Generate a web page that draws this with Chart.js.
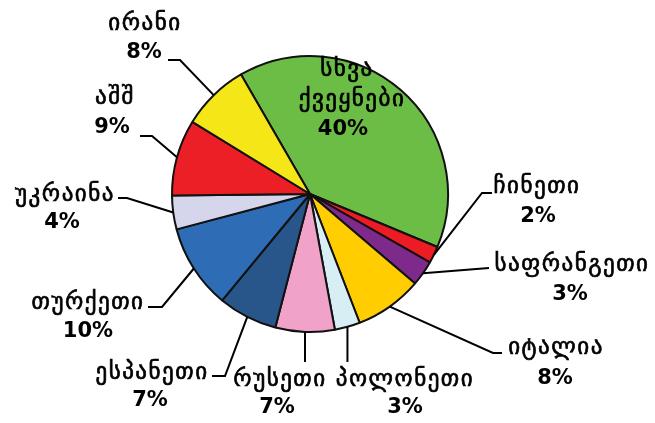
<!DOCTYPE html>
<html>
<head>
<meta charset="utf-8">
<script src="https://cdn.jsdelivr.net/npm/chart.js@4/dist/chart.umd.min.js"></script>
<style>
  html, body { margin: 0; padding: 0; background: #fff; }
  #wrap { width: 655px; height: 423px; }
</style>
</head>
<body>
<div id="wrap"><canvas id="importPie"></canvas></div>
<script>
// countries, clockwise from the big green slice
const countries = ['სხვა ქვეყნები', 'ჩინეთი', 'საფრანგეთი', 'იტალია', 'პოლონეთი', 'რუსეთი', 'ესპანეთი', 'თურქეთი', 'უკრაინა', 'აშშ', 'ირანი'];
const shares = [40, 2, 3, 8, 3, 7, 7, 10, 4, 9, 8];
const pctLabels = ['40%', '2%', '3%', '8%', '3%', '7%', '7%', '10%', '4%', '9%', '8%'];
const sliceColors = ['#6cbd45', '#ed1c24', '#7d2a8a', '#ffcd00', '#d6eef4', '#f0a2c8', '#28568a', '#2e6db5', '#d5d5eb', '#ed1f26', '#f5e717'];

// label placement, offsets from the pie centre (px)
const labelPos = [
  null,
  { name: [227, -7], pct: [228, 23], elbow: [172, -1], end: [182, -1] },
  { name: [262, 71], pct: [260, 101], elbow: [179, 74], end: [179, 74] },
  { name: [246, 154], pct: [245, 185], elbow: [183, 159], end: [192, 159] },
  { name: [95, 186], pct: [95, 214], vertical: 168 },
  { name: [-30, 186], pct: [-33, 214], vertical: 168 },
  { name: [-158, 179], pct: [-160, 207], elbow: [-85, 182], end: [-98, 182] },
  { name: [-222, 109], pct: [-222, 138], elbow: [-148, 113], end: [-162, 113] },
  { name: [-245, 1], pct: [-248, 29], elbow: [-183, 4], end: [-192, 4] },
  { name: [-195, -96], pct: [-198, -66], elbow: [-158, -58], end: [-170, -58] },
  { name: [-165, -170], pct: [-166, -141], elbow: [-130, -134], end: [-142, -134] }
];

const geoFont = '23px "DejaVu Sans"';
const pctFont = 'bold 21px "DejaVu Sans"';

function drawGeo(ctx, text, x, y) {
  ctx.font = geoFont;
  ctx.letterSpacing = '1.5px';
  ctx.lineWidth = 0.7;
  ctx.fillText(text, x, y);
  ctx.strokeText(text, x, y);
  ctx.letterSpacing = '0px';
}

const pieLabels = {
  id: 'pieLabels',
  afterDatasetsDraw(chart) {
    const ctx = chart.ctx;
    const arcs = chart.getDatasetMeta(0).data;
    const cx = arcs[0].x, cy = arcs[0].y;
    ctx.save();
    ctx.textAlign = 'center';
    ctx.textBaseline = 'middle';
    ctx.fillStyle = '#000';
    ctx.strokeStyle = '#000';
    arcs.forEach((arc, i) => {
      const p = arc.getProps(['startAngle', 'endAngle', 'outerRadius'], true);
      const mid = (p.startAngle + p.endAngle) / 2;
      const ax = cx + Math.cos(mid) * p.outerRadius;
      const ay = cy + Math.sin(mid) * p.outerRadius;
      const lp = labelPos[i];
      if (!lp) {
        // label inside the big slice
        const words = countries[i].split(' ');
        drawGeo(ctx, words[0], cx + 37, cy - 124);
        drawGeo(ctx, words[1], cx + 42, cy - 94);
        ctx.font = pctFont;
        ctx.fillText(pctLabels[i], cx + 33, cy - 64);
        return;
      }
      ctx.lineWidth = 2;
      ctx.beginPath();
      ctx.moveTo(ax, ay);
      if (lp.vertical) {
        ctx.lineTo(ax, cy + lp.vertical);
      } else {
        ctx.lineTo(cx + lp.elbow[0], cy + lp.elbow[1]);
        ctx.lineTo(cx + lp.end[0], cy + lp.end[1]);
      }
      ctx.stroke();
      drawGeo(ctx, countries[i], cx + lp.name[0], cy + lp.name[1]);
      ctx.font = pctFont;
      ctx.fillText(pctLabels[i], cx + lp.pct[0], cy + lp.pct[1]);
    });
    ctx.restore();
  }
};

new Chart(document.getElementById('importPie'), {
  type: 'pie',
  data: {
    labels: countries,
    datasets: [{
      data: shares,
      backgroundColor: sliceColors,
      borderColor: '#111',
      borderWidth: 2
    }]
  },
  options: {
    responsive: true,
    maintainAspectRatio: false,
    animation: false,
    rotation: -30,
    layout: { padding: { left: 100, right: 135, top: 55, bottom: 90 } },
    plugins: {
      legend: { display: false },
      tooltip: { enabled: false }
    }
  },
  plugins: [pieLabels]
});
</script>
</body>
</html>
